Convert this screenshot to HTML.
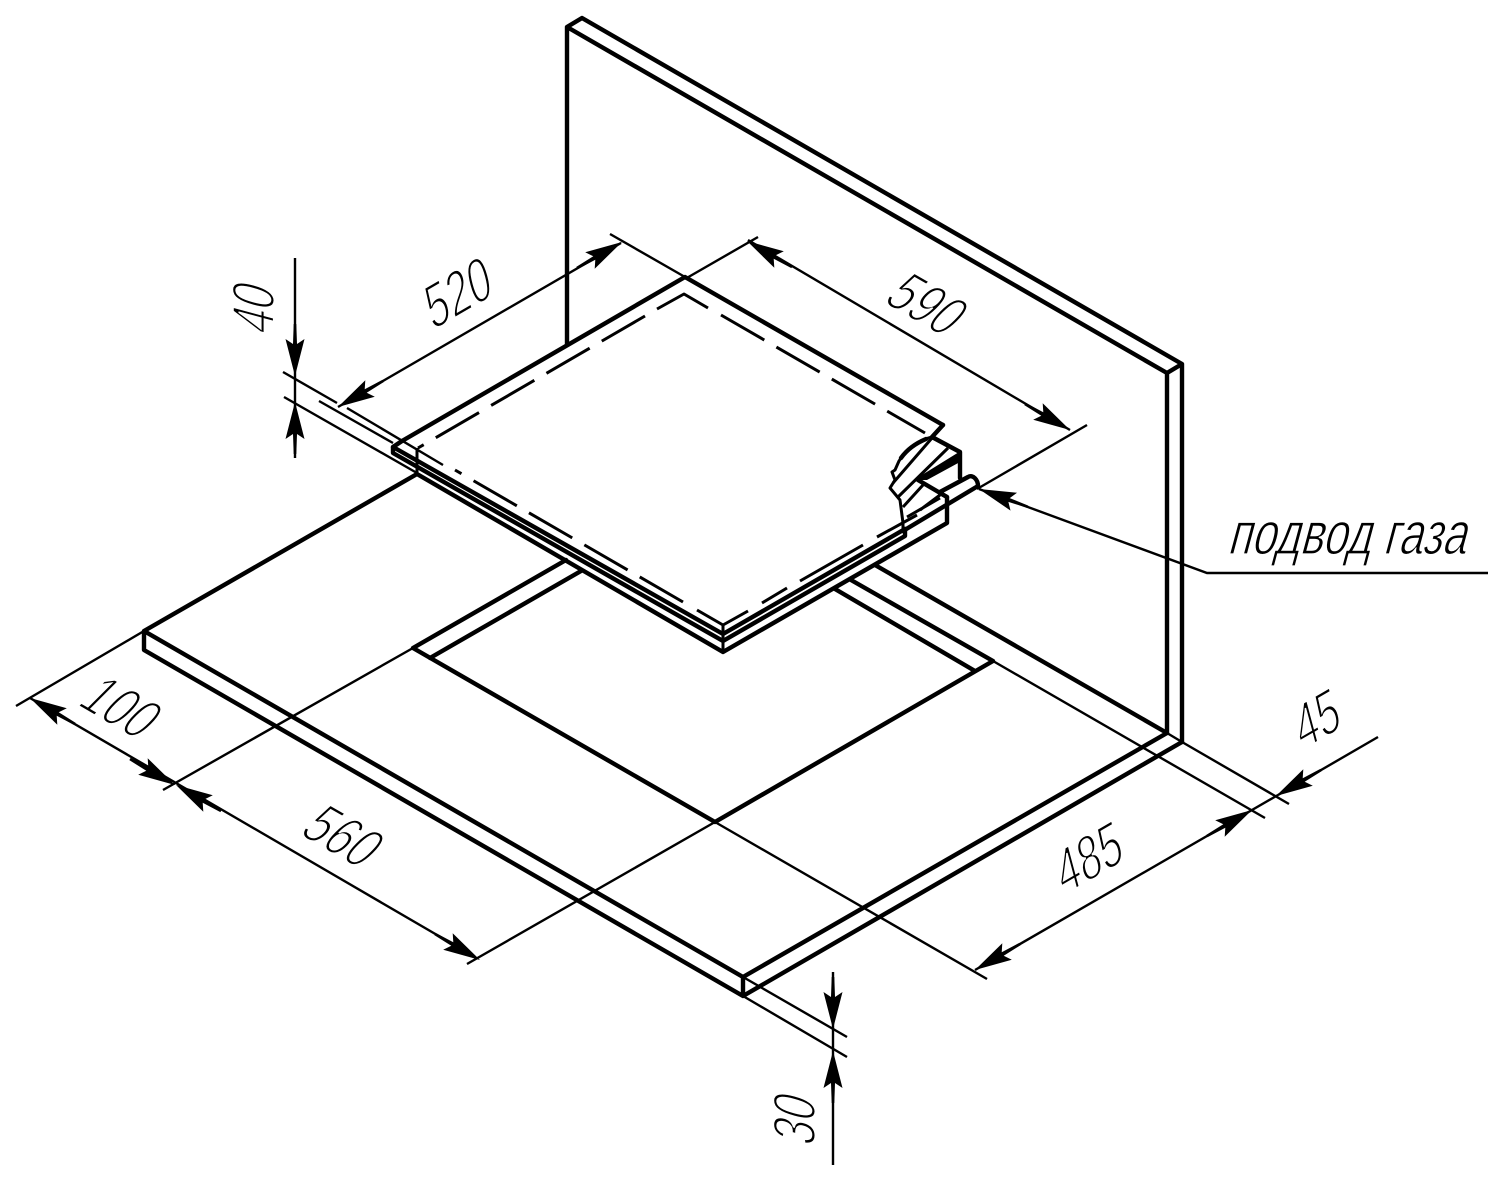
<!DOCTYPE html>
<html><head><meta charset="utf-8"><style>
html,body{margin:0;padding:0;background:#fff}
svg{display:block}
.k{stroke:#000;stroke-width:4.4;fill:none;stroke-linecap:round;stroke-linejoin:round}
.m{stroke:#000;stroke-width:3;fill:none;stroke-linecap:butt;stroke-linejoin:round}
.t{stroke:#000;stroke-width:2.4;fill:none;stroke-linecap:butt}
.l{font-family:"Liberation Sans","DejaVu Sans",sans-serif;font-size:60px;fill:#000;stroke:#fff;stroke-width:2.1px;text-anchor:middle}
</style></head><body>
<svg width="1508" height="1180" viewBox="0 0 1508 1180" xmlns="http://www.w3.org/2000/svg">
<defs><path id="a" d="M0 0L-37 -9.5L-32 -2L-52 -1.3L-52 1.3L-32 2L-37 9.5Z" fill="#000"/></defs>

<!-- wall -->
<path class="k" d="M567 345V27L582 18L1182 364V742M567 27L1167 373V733M1167 373L1182 364"/>

<!-- countertop -->
<path class="k" d="M417 474L144 631V650L743 996V977L144 631M743 977L1167 733M1182 742L743 996M875 565L1167 733"/>
<path class="t" d="M1167 733L1182 742"/>
<path class="k" d="M413 648L566 560M430 658L581 571M413 648L715 822L993 661M835 589L975 671M851 580L993 661"/>

<!-- hob -->
<path class="k" d="M943 425L685 277L402 441L393 447L723 634L905 529"/>
<path class="k" d="M393 447V453L723 641L905 536V529"/>
<path class="k" d="M417 474L723 652L947 523V497L940 493"/>
<path class="m" d="M417 448V474M723 625V652"/>

<!-- dashed outline -->
<path class="m" d="M657 309L684 294L708 308"/>
<path class="m" d="M645 316L418 448" stroke-dasharray="50 14"/>
<path class="m" d="M721 315L925 433" stroke-dasharray="50 14"/>
<path class="m" d="M748 611L723 625L697 610"/>
<path class="m" d="M683 602L455 470" stroke-dasharray="50 14"/>
<path class="m" d="M762 603L787 588M800 581L863 545M877 537L917 515"/>

<!-- cut-away section -->
<path class="k" d="M943 425L932 437L960 452V478M960 454L918 480L947 497"/>
<path d="M960 452L922 477L918 480L927 480L960 462Z" fill="#000"/>
<path class="m" d="M932 437C916 441 906 450 899 461L895 470L892 472L895 480L890 488L900 500L903 523V533"/>
<path class="k" d="M926 439C914 444 906 451 901 458"/>
<path class="m" d="M932 438L893 483M948 448L898 497M923 485L903 507M940 495L920 510M940 498L907 517"/>
<path class="k" d="M940 492L968 477C973 474 978 480 978 486L903 531"/>

<!-- extension lines -->
<path class="t" d="M283 372L337 403M347 408L443 465M319 401L393 443M284 397L417 473"/>
<path class="t" d="M610 234L685 277M758 237L685 279"/>
<path class="t" d="M1087 425L977 489"/>
<path class="t" d="M16 706L144 631M163 790L413 648"/>
<path class="t" d="M467 964L715 822M715 822L987 979"/>
<path class="t" d="M1182 742L1289 804M993 661L1265 818"/>
<path class="t" d="M1378 737L1278 795"/>
<path class="t" d="M743 977L847 1037M743 996L847 1057"/>

<!-- dimension lines -->
<path class="t" d="M338 407L621 243"/>
<path class="t" d="M748 240L1070 430"/>
<path class="t" d="M295 258V458"/>
<path class="t" d="M833 972V1165"/>
<path class="t" d="M30 698L468 953"/>
<path class="t" d="M975 970L1278 795"/>
<path class="t" d="M979 489L1207 573H1488"/>

<!-- arrowheads -->
<use href="#a" transform="translate(338,407) rotate(150)"/>
<use href="#a" transform="translate(622,242) rotate(-30)"/>
<use href="#a" transform="translate(747,241) rotate(210)"/>
<use href="#a" transform="translate(1070,430) rotate(30)"/>
<use href="#a" transform="translate(295,376) rotate(90)"/>
<use href="#a" transform="translate(295,402) rotate(-90)"/>
<use href="#a" transform="translate(833,1029) rotate(90)"/>
<use href="#a" transform="translate(833,1051) rotate(-90)"/>
<use href="#a" transform="translate(30,698) rotate(210)"/>
<use href="#a" transform="translate(175,785) rotate(30)"/>
<use href="#a" transform="translate(176,785) rotate(210)"/>
<use href="#a" transform="translate(480,960) rotate(30)"/>
<use href="#a" transform="translate(975,970) rotate(150)"/>
<use href="#a" transform="translate(1252,810) rotate(-30)"/>
<use href="#a" transform="translate(1276,796) rotate(150)"/>
<use href="#a" transform="translate(979,489) rotate(200)"/>

<!-- labels -->
<text class="l" transform="translate(458,292) rotate(-30) skewX(-15) scale(.72,1)" y="21">520</text>
<text class="l" transform="translate(928,304) rotate(30) skewX(-15) scale(.72,1)" y="21">590</text>
<text class="l" transform="translate(253,307) rotate(-90) skewX(-15) scale(.72,1)" y="21">40</text>
<text class="l" transform="translate(122,707) rotate(30) skewX(-15) scale(.72,1)" y="21">100</text>
<text class="l" transform="translate(344,836) rotate(30) skewX(-15) scale(.72,1)" y="21">560</text>
<text class="l" transform="translate(1089,857) rotate(-30) skewX(-15) scale(.72,1)" y="21">485</text>
<text class="l" transform="translate(1317,718) rotate(-30) skewX(-15) scale(.72,1)" y="21">45</text>
<text class="l" transform="translate(794,1118) rotate(-90) skewX(-15) scale(.72,1)" y="21">30</text>
<text class="l" transform="translate(1346,554) skewX(-15) scale(.726,1)" style="stroke-width:1.2px">подвод газа</text>
</svg>
</body></html>
